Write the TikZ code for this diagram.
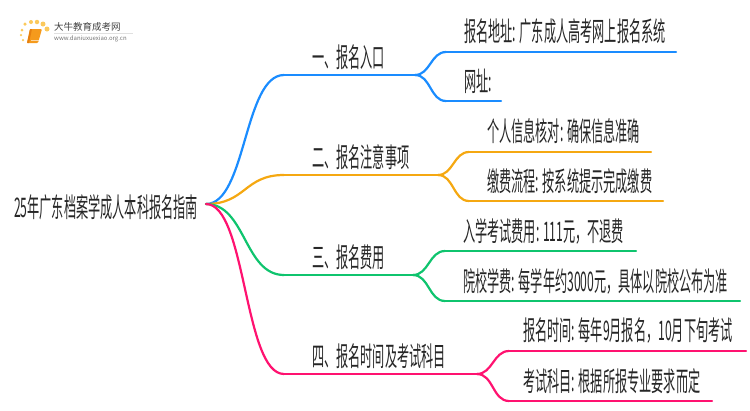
\documentclass[tikz,border=0pt]{standalone}
\usepackage{graphicx}
\usepackage{fontspec}
\setmainfont{Noto Sans CJK SC}
\usetikzlibrary{positioning, calc}
\definecolor{bluec}{HTML}{1A8CFF}
\definecolor{orangec}{HTML}{F5A811}
\definecolor{greenc}{HTML}{0FC46E}
\definecolor{pinkc}{HTML}{FF1270}
\definecolor{bookc}{HTML}{F59A1C}
\definecolor{spinec}{HTML}{E57F10}
\definecolor{dotc}{HTML}{FBC95C}
\newcommand{\narrow}[1]{\scalebox{.45}[1]{#1}}
\begin{document}
\begin{tikzpicture}[x=1pt, y=-1pt]
        \tikzstyle{txt}=[anchor=west, inner sep=0pt, text=black!85, font=\fontsize{27}{27}\selectfont];
        \tikzstyle{line}=[line width=2.2pt, line cap=round];
        \tikzstyle{dot}=[circle, fill=dotc, inner sep=0pt];
        \useasboundingbox (0,0) rectangle (750,410);

        % logo
        \fill[bookc, rounded corners=1pt] (30,29) -- (42,29) -- (38,43) -- (27,43) -- cycle;
        \fill[spinec, rounded corners=.5pt] (30,29) -- (32,29) -- (29,43) -- (27,43) -- cycle;
        \draw[white, line width=.5pt, opacity=.6] (31,40.5) -- (38.5,40.5);
        \foreach \px/\py/\ds in {23/40/2.5, 21/35/2.5, 22/30/3, 25/24/3.5, 31/22/4, 37/22/4.5, 43/24/5, 47/29/5}
          \node[dot, minimum size=\ds pt] at (\px,\py) {};
        \node[anchor=west, inner sep=0pt, text=black!75, font=\fontsize{9.5}{9.5}\selectfont] (logotxt) at (54,27) {大牛教育成考网};
        \node[anchor=west, inner sep=0pt, text=black!55, font=\fontsize{6}{6}\selectfont] (logourl) at (54,39) {www.daniuxuexiao.org.cn};
        \draw[black!12, line width=.6pt] (54,33) -- (133,33);

        \node[txt] (guide) at (14,207) {\narrow{25年广东档案学成人本科报名指南}};
        \coordinate (root) at (206,204);

        \node[txt] (one) at (312,57) {\narrow{一、报名入口}};
        \node[txt] (two) at (312,157) {\narrow{二、报名注意事项}};
        \node[txt] (three) at (312,257) {\narrow{三、报名费用}};
        \node[txt] (four) at (312,356) {\narrow{四、报名时间及考试科目}};

        \node[txt] (onea) at (464,31) {\narrow{报名地址: 广东成人高考网上报名系统}};
        \node[txt] (oneb) at (464,81) {\narrow{网址:}};
        \node[txt] (twoa) at (487,131) {\narrow{个人信息核对: 确保信息准确}};
        \node[txt] (twob) at (487,181) {\narrow{缴费流程: 按系统提示完成缴费}};
        \node[txt] (threea) at (463,231) {\narrow{入学考试费用: 111元，不退费}};
        \node[txt] (threeb) at (463,281) {\narrow{院校学费: 每学年约3000元，具体以院校公布为准}};
        \node[txt] (foura) at (523,331) {\narrow{报名时间: 每年9月报名，10月下旬考试}};
        \node[txt] (fourb) at (523,381) {\narrow{考试科目: 根据所报专业要求而定}};

        % branch ends
        \coordinate (oneS) at (284,75);
        \coordinate (oneE) at (415,75);
        \coordinate (twoS) at (284,175);
        \coordinate (twoE) at (438,175);
        \coordinate (threeS) at (284,275);
        \coordinate (threeE) at (413,275);
        \coordinate (fourS) at (284,374);
        \coordinate (fourE) at (477,374);

        % leaf lines
        \coordinate (oneaS) at (446,52);
        \coordinate (oneaE) at (676,52);
        \coordinate (onebS) at (446,101);
        \coordinate (onebE) at (501,101);
        \coordinate (twoaS) at (469,152);
        \coordinate (twoaE) at (651,152);
        \coordinate (twobS) at (469,201);
        \coordinate (twobE) at (663,201);
        \coordinate (threeaS) at (445,251);
        \coordinate (threeaE) at (636,251);
        \coordinate (threebS) at (445,301);
        \coordinate (threebE) at (740,301);
        \coordinate (fouraS) at (509,351);
        \coordinate (fouraE) at (746,351);
        \coordinate (fourbS) at (509,401);
        \coordinate (fourbE) at (712,401);

        \path[line, draw=bluec]
        (root) edge[in=180, out=0, looseness=.68] (oneS)
        (oneS) edge (oneE)
        (oneE) edge[in=180, out=0] (oneaS)
        (oneE) edge[in=180, out=0] (onebS)
        (oneaS) edge (oneaE)
        (onebS) edge (onebE);
        \path[line, draw=orangec]
        (root) edge[in=180, out=0, looseness=1.23] (twoS)
        (twoS) edge (twoE)
        (twoE) edge[in=180, out=0] (twoaS)
        (twoE) edge[in=180, out=0] (twobS)
        (twoaS) edge (twoaE)
        (twobS) edge (twobE);
        \path[line, draw=greenc]
        (root) edge[in=180, out=0, looseness=.97] (threeS)
        (threeS) edge (threeE)
        (threeE) edge[in=180, out=0] (threeaS)
        (threeE) edge[in=180, out=0] (threebS)
        (threeaS) edge (threeaE)
        (threebS) edge (threebE);
        \path[line, draw=pinkc]
        (root) edge[in=180, out=0, looseness=.55] (fourS)
        (fourS) edge (fourE)
        (fourE) edge[in=180, out=0] (fouraS)
        (fourE) edge[in=180, out=0] (fourbS)
        (fouraS) edge (fouraE)
        (fourbS) edge (fourbE);
\end{tikzpicture}
\end{document}
